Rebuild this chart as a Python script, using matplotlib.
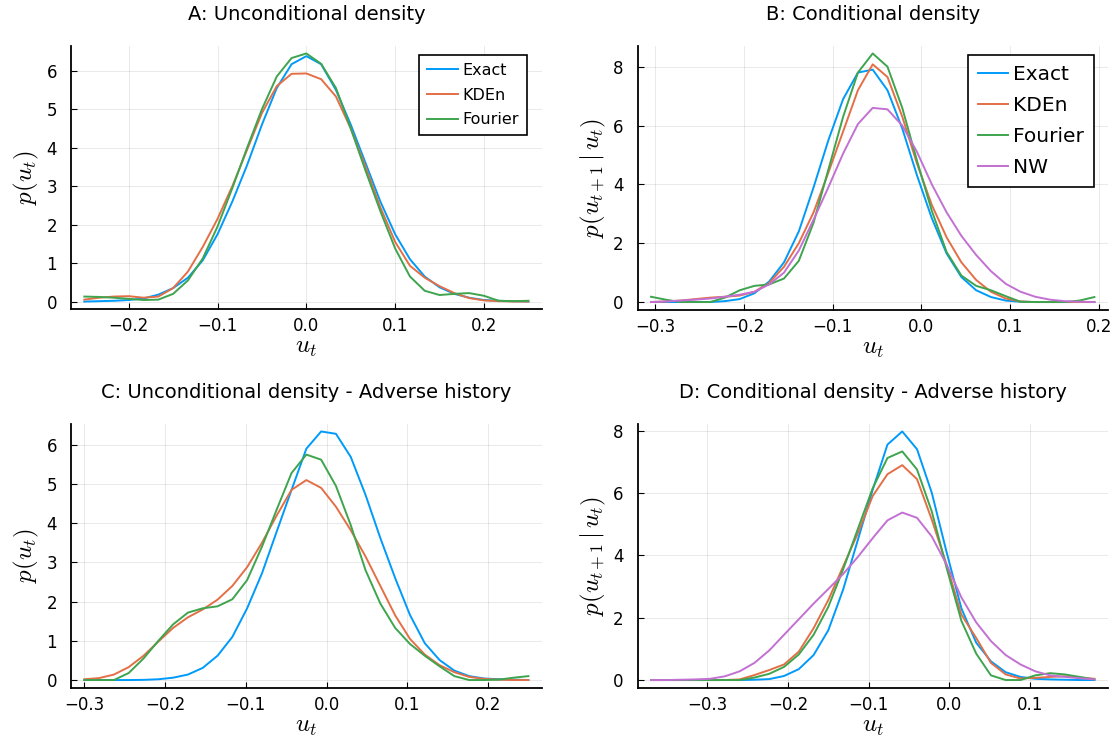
import numpy as np
import matplotlib
matplotlib.use('Agg')
import matplotlib.pyplot as plt
from matplotlib.ticker import FuncFormatter

plt.rcParams['font.family'] = ['DejaVu Sans']
plt.rcParams['mathtext.fontset'] = 'cm'

# evaluation grids (31 points each)
x_a = np.linspace(-0.25, 0.25, 31)
x_b = np.linspace(-0.305, 0.195, 31)
x_c = np.linspace(-0.30, 0.25, 31)
x_d = np.linspace(-0.37, 0.18, 31)

# A: unconditional density
a_exact = [0.0, 0.01, 0.02, 0.04, 0.08, 0.18, 0.35, 0.62, 1.07, 1.75, 2.6, 3.55, 4.6, 5.55, 6.17, 6.38,
           6.17, 5.5, 4.6, 3.6, 2.6, 1.75, 1.1, 0.65, 0.37, 0.2, 0.1, 0.04, 0.02, 0.01, 0.0]
a_kden = [0.05, 0.1, 0.13, 0.14, 0.1, 0.13, 0.35, 0.78, 1.42, 2.15, 3.0, 3.95, 4.9, 5.6, 5.92, 5.93,
          5.78, 5.33, 4.5, 3.5, 2.45, 1.55, 0.93, 0.62, 0.4, 0.22, 0.09, 0.03, 0.01, 0.0, 0.0]
a_fourier = [0.13, 0.12, 0.1, 0.07, 0.04, 0.05, 0.2, 0.55, 1.12, 1.95, 2.95, 4.0, 5.0, 5.85, 6.33, 6.45,
             6.18, 5.55, 4.5, 3.4, 2.35, 1.38, 0.65, 0.28, 0.17, 0.2, 0.22, 0.15, 0.02, 0.01, 0.02]

# B: conditional density
b_exact = [0.0, 0.0, 0.0, 0.0, 0.0, 0.03, 0.1, 0.3, 0.7, 1.35, 2.4, 3.9, 5.5, 6.9, 7.8, 7.9,
           7.2, 5.9, 4.3, 2.85, 1.65, 0.85, 0.4, 0.17, 0.05, 0.01, 0.0, 0.0, 0.0, 0.0, 0.0]
b_kden = [0.0, 0.02, 0.05, 0.1, 0.15, 0.18, 0.22, 0.35, 0.65, 1.2, 2.0, 3.05, 4.4, 5.8, 7.2, 8.08,
          7.65, 6.3, 4.7, 3.3, 2.2, 1.35, 0.75, 0.35, 0.12, 0.02, 0.0, 0.0, 0.0, 0.0, 0.0]
b_fourier = [0.18, 0.08, 0.0, 0.0, 0.0, 0.15, 0.4, 0.55, 0.6, 0.8, 1.4, 2.7, 4.5, 6.3, 7.8, 8.45,
             8.0, 6.6, 4.8, 3.1, 1.7, 0.9, 0.55, 0.4, 0.2, 0.01, 0.0, 0.0, 0.0, 0.05, 0.17]
b_nw = [0.0, 0.02, 0.05, 0.08, 0.12, 0.18, 0.25, 0.35, 0.6, 1.0, 1.75, 2.8, 3.9, 5.05, 6.05, 6.6,
        6.55, 6.0, 5.1, 4.0, 3.05, 2.25, 1.6, 1.05, 0.62, 0.35, 0.18, 0.08, 0.03, 0.01, 0.0]

# C: unconditional density - adverse history
c_exact = [0.0, 0.0, 0.0, 0.0, 0.005, 0.02, 0.06, 0.14, 0.31, 0.62, 1.1, 1.83, 2.72, 3.79, 4.85, 5.9,
           6.34, 6.28, 5.69, 4.72, 3.62, 2.6, 1.66, 0.94, 0.51, 0.24, 0.1, 0.04, 0.02, 0.01, 0.0]
c_kden = [0.02, 0.05, 0.14, 0.33, 0.62, 0.98, 1.33, 1.6, 1.8, 2.05, 2.4, 2.88, 3.5, 4.2, 4.85, 5.1,
          4.9, 4.42, 3.82, 3.15, 2.4, 1.65, 1.05, 0.65, 0.38, 0.2, 0.08, 0.03, 0.01, 0.0, 0.0]
c_fourier = [0.0, 0.0, 0.0, 0.18, 0.55, 1.0, 1.42, 1.72, 1.83, 1.88, 2.06, 2.55, 3.4, 4.35, 5.28, 5.75,
             5.62, 4.95, 3.95, 2.8, 1.95, 1.33, 0.92, 0.62, 0.35, 0.1, 0.0, 0.0, 0.01, 0.06, 0.1]

# D: conditional density - adverse history
d_exact = [0.0, 0.0, 0.0, 0.0, 0.0, 0.0, 0.0, 0.01, 0.03, 0.13, 0.35, 0.8, 1.6, 2.9, 4.5, 6.1,
           7.55, 7.97, 7.4, 6.0, 4.1, 2.3, 1.2, 0.6, 0.25, 0.1, 0.04, 0.02, 0.01, 0.0, 0.0]
d_kden = [0.0, 0.0, 0.0, 0.0, 0.0, 0.0, 0.02, 0.16, 0.32, 0.5, 0.91, 1.66, 2.57, 3.64, 4.71, 5.9,
          6.6, 6.89, 6.44, 5.14, 3.7, 2.1, 1.35, 0.55, 0.18, 0.05, 0.07, 0.1, 0.12, 0.08, 0.04]
d_fourier = [0.0, 0.0, 0.0, 0.0, 0.0, 0.0, 0.0, 0.08, 0.2, 0.42, 0.82, 1.45, 2.35, 3.55, 4.85, 6.15,
             7.12, 7.33, 6.75, 5.4, 3.6, 1.9, 0.85, 0.15, 0.0, 0.0, 0.15, 0.22, 0.18, 0.1, 0.02]
d_nw = [0.0, 0.0, 0.01, 0.02, 0.04, 0.12, 0.28, 0.55, 0.95, 1.45, 1.95, 2.45, 2.92, 3.4, 3.95, 4.55,
        5.12, 5.37, 5.2, 4.6, 3.7, 2.65, 1.85, 1.25, 0.8, 0.5, 0.28, 0.15, 0.1, 0.06, 0.02]

colors = {'Exact': '#009AFA', 'KDEn': '#E36F47', 'Fourier': '#3EA44E', 'NW': '#C271D2'}

W, H = 1116, 744
fig = plt.figure(figsize=(W / 100, H / 100), dpi=100)


def add_ax(left, top, right, bottom):
    return fig.add_axes([left / W, 1 - bottom / H, (right - left) / W, (bottom - top) / H])


def fmt(v, pos):
    s = f'{v:.1f}'
    if s == '-0.0':
        s = '0.0'
    return s.replace('-', '\u2212')


def style(ax, title, xt, yt, ylab):
    ax.set_title(title, fontsize=14, pad=19)
    ax.set_xticks(xt)
    ax.set_yticks(yt)
    ax.xaxis.set_major_formatter(FuncFormatter(fmt))
    ax.margins(x=0.03, y=0.03)
    for s in ['top', 'right']:
        ax.spines[s].set_visible(False)
    for s in ['left', 'bottom']:
        ax.spines[s].set_linewidth(1.3)
    ax.tick_params(direction='in', length=4, width=0.8, labelsize=12)
    ax.tick_params(axis='y', pad=10)
    ax.tick_params(axis='x', pad=6)
    ax.grid(True, color='black', alpha=0.1, linewidth=0.6)
    ax.set_axisbelow(True)
    ax.set_xlabel(r'$u_t$', fontsize=18, labelpad=0)
    ax.set_ylabel(ylab, fontsize=18, labelpad=4)


panels = [
    (add_ax(71, 46, 541.7, 309), 'A: Unconditional density', x_a,
     [('Exact', a_exact), ('KDEn', a_kden), ('Fourier', a_fourier)],
     [-0.2, -0.1, 0.0, 0.1, 0.2], range(0, 7), r'$p(u_t)$'),
    (add_ax(637.7, 46, 1107.7, 309.5), 'B: Conditional density', x_b,
     [('Exact', b_exact), ('KDEn', b_kden), ('Fourier', b_fourier), ('NW', b_nw)],
     [-0.3, -0.2, -0.1, 0.0, 0.1, 0.2], range(0, 9, 2), r'$p(u_{t+1}\,|\,u_t)$'),
    (add_ax(71, 424, 541.7, 687.5), 'C: Unconditional density - Adverse history', x_c,
     [('Exact', c_exact), ('KDEn', c_kden), ('Fourier', c_fourier)],
     [-0.3, -0.2, -0.1, 0.0, 0.1, 0.2], range(0, 7), r'$p(u_t)$'),
    (add_ax(637.7, 424, 1107.7, 687.5), 'D: Conditional density - Adverse history', x_d,
     [('Exact', d_exact), ('KDEn', d_kden), ('Fourier', d_fourier), ('NW', d_nw)],
     [-0.3, -0.2, -0.1, 0.0, 0.1], range(0, 9, 2), r'$p(u_{t+1}\,|\,u_t)$'),
]

axes = []
for ax, title, x, series, xt, yt, ylab in panels:
    for name, y in series:
        ax.plot(x, y, color=colors[name], lw=1.4, label=name)
    style(ax, title, xt, yt, ylab)
    axes.append(ax)

leg = axes[0].legend(loc='upper right', bbox_to_anchor=(527 / W, 1 - 55 / H),
                     bbox_transform=fig.transFigure, fontsize=11.5, fancybox=False,
                     framealpha=1, edgecolor='black', handlelength=1.9,
                     labelspacing=0.6, borderaxespad=0, handletextpad=0.3,
                     borderpad=0.5)
leg.get_frame().set_linewidth(1.2)
leg = axes[1].legend(loc='upper right', bbox_to_anchor=(1094 / W, 1 - 55 / H),
                     bbox_transform=fig.transFigure, fontsize=14.5, fancybox=False,
                     framealpha=1, edgecolor='black', handlelength=1.5,
                     labelspacing=0.6, borderaxespad=0, handletextpad=0.25,
                     borderpad=0.5)
leg.get_frame().set_linewidth(1.2)

fig.savefig('out.png', dpi=100)
